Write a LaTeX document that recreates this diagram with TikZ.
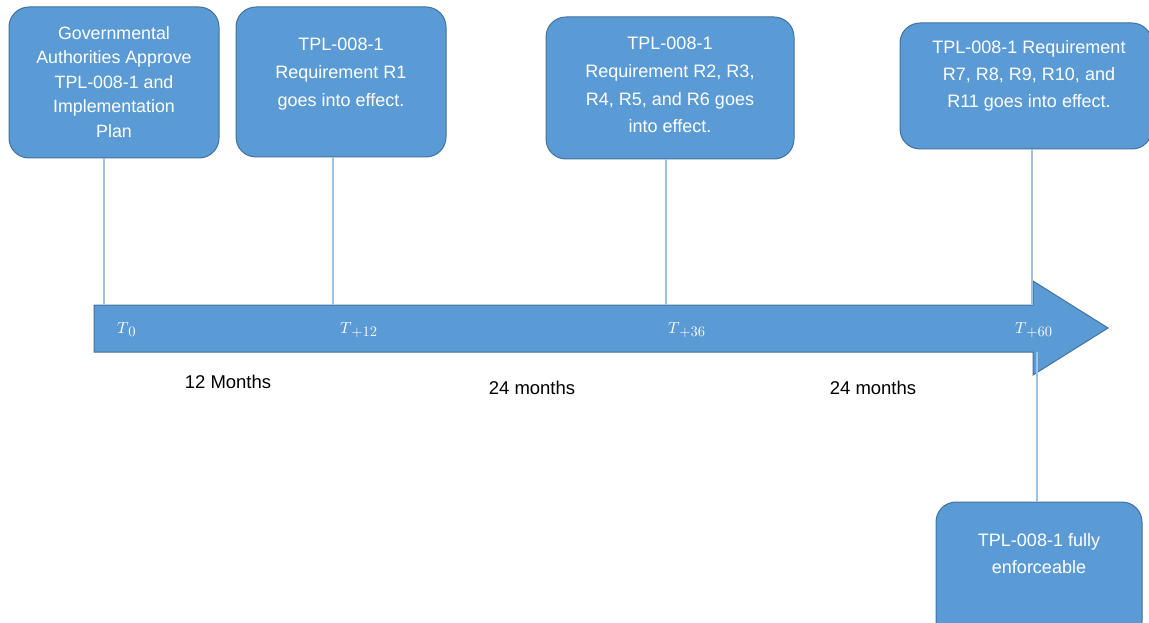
\documentclass[tikz,border=0pt]{standalone}
\usepackage{fontspec}
\setmainfont{Liberation Sans}
\definecolor{boxfill}{HTML}{5B9BD5}
\definecolor{boxedge}{HTML}{41719C}
\definecolor{linkblue}{HTML}{9DC3E6}
\newcommand{\tlab}[1]{\scalebox{1.6}{$T$}\kern-0.3pt\raisebox{-3.3pt}{\scalebox{1.45}{$#1$}}}
\begin{document}
\begin{tikzpicture}[x=1pt,y=-1pt,
  box/.style={draw=boxedge, fill=boxfill, rounded corners=20pt, line width=1pt, inner sep=0pt},
  btext/.style={text=white, align=center, inner sep=0pt, font=\fontsize{18}{28}\selectfont},
  conn/.style={draw=linkblue, line width=1.3pt},
  tlabel/.style={text=white, anchor=base west, inner sep=0pt},
  mlabel/.style={text=black, inner sep=0pt, font=\fontsize{18.5}{20}\selectfont}]
\useasboundingbox (0,0) rectangle (1149,623);

% timeline arrow
\draw[fill=boxfill, draw=boxedge, line width=1pt]
  (94,305) -- (1033,305) -- (1033,281) -- (1108,328) -- (1033,375) -- (1033,352) -- (94,352) -- cycle;
\coordinate (p0) at (104,305);
\coordinate (p12) at (333,305);
\coordinate (p36) at (666,305);
\coordinate (p60) at (1032,305);
\coordinate (p60b) at (1037,352);

% boxes
\node[box, minimum width=210pt, minimum height=151pt] (b1) at (114,82.5) {};
\node[box, minimum width=210pt, minimum height=150pt] (b2) at (341,82) {};
\node[box, minimum width=248pt, minimum height=142pt] (b3) at (670,88) {};
\node[box, minimum width=252pt, minimum height=126pt] (b4) at (1026,86) {};
\node[box, minimum width=206pt, minimum height=140pt] (b5) at (1039,572) {};

% box texts
\node[btext, font=\fontsize{17.8}{24.5}\selectfont] (t1) at (114,82) {Governmental\\Authorities Approve\\TPL-008-1 and\\Implementation\\Plan};
\node[btext] (t2) at (341,74) {TPL-008-1\\Requirement R1\\goes into effect.};
\node[btext, font=\fontsize{18}{27.7}\selectfont] (t3) at (670,85) {TPL-008-1\\Requirement R2, R3,\\R4, R5, and R6 goes\\into effect.};
\node[btext, font=\fontsize{18}{27}\selectfont] (t4) at (1029,76) {TPL-008-1 Requirement\\R7, R8, R9, R10, and\\R11 goes into effect.};
\node[btext, font=\fontsize{18}{27}\selectfont] (t5) at (1039,554) {TPL-008-1 fully\\enforceable};

% connectors
\draw[conn] (b1.south -| p0) -- (p0);
\draw[conn] (b2.south -| p12) -- (p12);
\draw[conn] (b3.south -| p36) -- (p36);
\draw[conn] (b4.south -| p60) -- (p60);
\draw[conn] (p60b) -- (b5.north -| p60b);

% time labels
\node[tlabel] (l0) at (117,333) {\tlab{0}};
\node[tlabel] (l12) at (340,333) {\tlab{+12}};
\node[tlabel] (l36) at (668,333) {\tlab{+36}};
\node[tlabel] (l60) at (1015,333) {\tlab{+60}};

% month labels
\node[mlabel] (m1) at (228,382) {12 Months};
\node[mlabel] (m2) at (532,388) {24 months};
\node[mlabel] (m3) at (873,388) {24 months};
\end{tikzpicture}
\end{document}
